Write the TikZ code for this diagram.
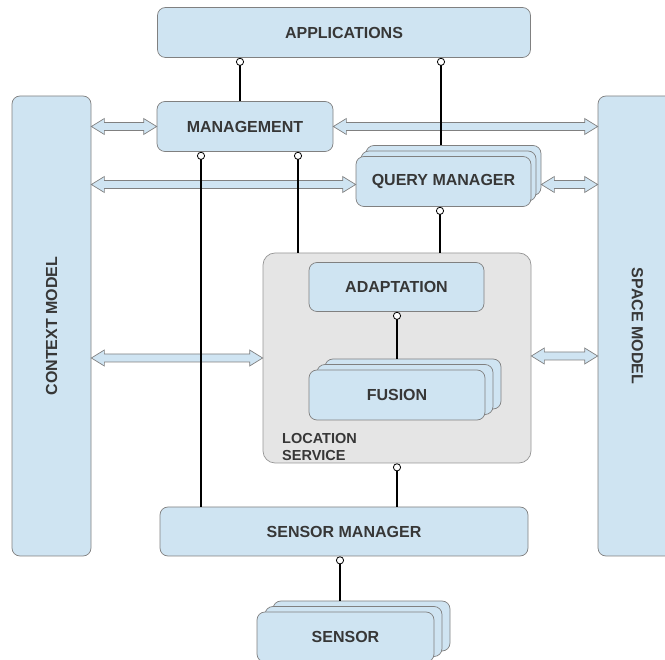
\documentclass[tikz,border=0pt]{standalone}
\usepackage{fontspec}
\setmainfont{Liberation Sans}
\usepackage{graphicx}
\usepackage{tikz}
\usetikzlibrary{arrows.meta,calc}

\definecolor{boxblue}{RGB}{207,228,242}
\definecolor{boxedge}{RGB}{128,128,128}
\definecolor{lsgray}{RGB}{229,229,229}
\definecolor{lsedge}{RGB}{150,150,150}
\definecolor{txtgray}{RGB}{55,55,55}

% hollow two-headed arrow between two points on one horizontal line
\newcommand{\fatarrow}[2]{%
  \path[fat] let \p1=(#1), \p2=(#2) in
    (\x1,\y1) -- (\x1+13pt,\y1+8pt) -- (\x1+13pt,\y1+4pt)
    -- (\x2-13pt,\y1+4pt) -- (\x2-13pt,\y1+8pt) -- (\x2,\y1)
    -- (\x2-13pt,\y1-8pt) -- (\x2-13pt,\y1-4pt)
    -- (\x1+13pt,\y1-4pt) -- (\x1+13pt,\y1-8pt) -- cycle;}

\begin{document}
\begin{tikzpicture}[x=1pt,y=-1pt,
  box/.style={draw=boxedge,fill=boxblue,rounded corners=8pt,line width=0.7pt,
    minimum height=50pt,inner sep=0pt,text=txtgray,
    font=\bfseries\fontsize{16}{19}\selectfont},
  lsbox/.style={draw=lsedge,fill=lsgray,rounded corners=12pt,line width=0.7pt,inner sep=0pt},
  link/.style={line width=2pt,{Circle[length=8pt,width=8pt,fill=white,line width=0.8pt]}-},
  fat/.style={draw=boxedge,fill=boxblue,line width=0.7pt,line join=miter}]

\useasboundingbox (0,0) rectangle (665,660);
\clip (0,0) rectangle (665,660);

%-------------------------------------------------------------------
% Side models
\node[box,minimum width=79pt,minimum height=460pt] (ctx) at (51.5,326) {\rotatebox{90}{CONTEXT MODEL}};
\node[box,minimum width=79pt,minimum height=460pt] (spc) at (637.5,326) {\rotatebox{-90}{SPACE MODEL}};

%-------------------------------------------------------------------
% Top layers
\node[box,minimum width=373pt] (apps) at (344,32.5) {APPLICATIONS};
\node[box,minimum width=176pt] (mgmt) at (245,126.5) {MANAGEMENT};

% Query manager (stacked)
\foreach \d in {2,1}{
  \node[box,minimum width=175pt] (qm-\d) at (443.5+5*\d,181.5-5.5*\d) {};}
\node[box,minimum width=175pt] (qm) at (443.5,181.5) {QUERY MANAGER};

%-------------------------------------------------------------------
% Location service
\node[lsbox,minimum width=268pt,minimum height=210pt] (loc) at (397,358) {};
\node[box,minimum width=175pt,minimum height=49pt] (adapt) at (396.5,287) {ADAPTATION};
\foreach \d in {2,1}{
  \node[box,minimum width=176pt] (fus-\d) at (397+8*\d,395-5.5*\d) {};}
\node[box,minimum width=176pt] (fus) at (397,395) {FUSION};
\node[anchor=north west,align=left,inner sep=0pt,text=txtgray,
  font=\bfseries\fontsize{14.5}{17.5}\selectfont] (loclbl) at (282,433) {LOCATION\\SERVICE};

%-------------------------------------------------------------------
% Sensors
\node[box,minimum width=368pt,minimum height=49pt] (smgr) at (344,531.5) {SENSOR MANAGER};
\foreach \d in {2,1}{
  \node[box,minimum width=177pt] (sen-\d) at (345.5+8*\d,637-5.5*\d) {};}
\node[box,minimum width=177pt] (sen) at (345.5,637) {SENSOR};

%-------------------------------------------------------------------
% Model exchanges
\coordinate (qmy) at (0,184.5);
\fatarrow{ctx.east |- mgmt}{mgmt.west}
\fatarrow{mgmt.east}{spc.west |- mgmt}
\fatarrow{ctx.east |- qmy}{qm.west |- qmy}
\fatarrow{qm-2.east |- qmy}{spc.west |- qmy}
\fatarrow{ctx.east |- loc}{loc.west}
\fatarrow{loc.east |- 0,356}{spc.west |- 0,356}

%-------------------------------------------------------------------
% Interfaces
\coordinate (xa) at (240,0);
\coordinate (xb) at (441,0);
\coordinate (xc) at (201,0);
\coordinate (xd) at (298,0);
\coordinate (xe) at (440,0);
\coordinate (xf) at (397,0);
\coordinate (xg) at (340,0);

\draw[link] (apps.south -| xa) -- (mgmt.north -| xa);
\draw[link] (apps.south -| xb) -- (qm-2.north -| xb);
\draw[link] (mgmt.south -| xc) -- (smgr.north -| xc);
\draw[link] (mgmt.south -| xd) -- (loc.north -| xd);
\draw[link] (qm.south -| xe) -- (loc.north -| xe);
\draw[link] (adapt.south -| xf) -- (fus-2.north -| xf);
\draw[link] (loc.south -| xf) -- (smgr.north -| xf);
\draw[link] (smgr.south -| xg) -- (sen-2.north -| xg);

\end{tikzpicture}
\end{document}
